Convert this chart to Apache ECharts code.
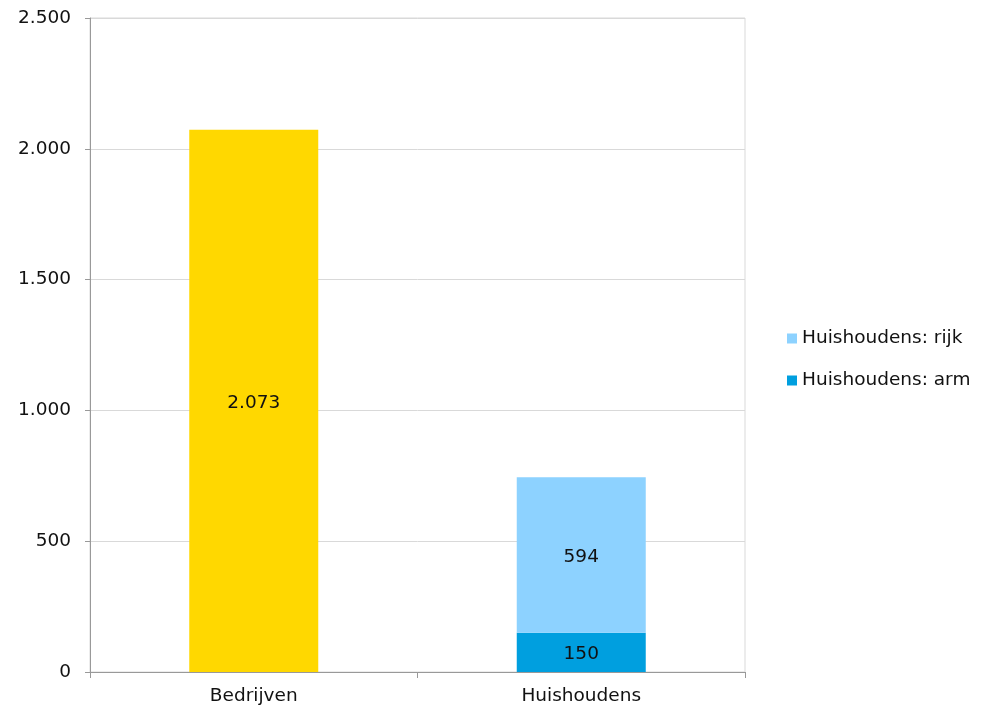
<!DOCTYPE html>
<html>
<head>
<meta charset="utf-8">
<script src="https://cdn.jsdelivr.net/npm/echarts@6/dist/echarts.min.js"></script>
<style>html,body{margin:0;padding:0;background:#fff}#c{width:981px;height:709px}</style>
</head>
<body>
<div id="c"></div>
<script>
const categories = ['Bedrijven', 'Huishoudens'];
const bedrijven = [2073, null];
const huisArm = [null, 150];
const huisRijk = [null, 594];
const legendNames = ['Huishoudens: rijk', 'Huishoudens: arm'];

const font = 'DejaVu Sans';
const fs = 18.5;
const fmt = v => String(v).replace(/\B(?=(\d{3})+(?!\d))/g, '.');
const chart = echarts.init(document.getElementById('c'));
const lbl = {show: true, position: 'inside', color: '#111', fontFamily: font, fontSize: fs, offset: [0, 2], formatter: p => fmt(p.value)};
chart.setOption({
  animation: false,
  grid: {left: 90, right: 236, top: 18, bottom: 37, show: true, borderColor: '#d9d9d9', borderWidth: 1},
  legend: {
    data: legendNames, orient: 'vertical', left: 787, top: 329, padding: 0,
    itemWidth: 10, itemHeight: 10, itemGap: 23, icon: 'rect',
    textStyle: {fontFamily: font, fontSize: fs, color: '#111'}
  },
  xAxis: {
    type: 'category', data: categories,
    axisLine: {lineStyle: {color: '#999'}},
    axisTick: {show: true, length: 6, lineStyle: {color: '#999'}},
    axisLabel: {color: '#111', fontFamily: font, fontSize: fs, margin: 15}
  },
  yAxis: {
    type: 'value', min: 0, max: 2500, interval: 500,
    axisLine: {show: true, lineStyle: {color: '#999'}},
    axisTick: {show: true, length: 5, lineStyle: {color: '#999'}},
    splitLine: {lineStyle: {color: '#d9d9d9'}},
    axisLabel: {color: '#111', fontFamily: font, fontSize: fs, margin: 19, formatter: fmt}
  },
  series: [
    {name: 'Bedrijven', type: 'bar', stack: 's', data: bedrijven, barWidth: 129, itemStyle: {color: '#FFD800'}, label: lbl},
    {name: 'Huishoudens: arm', type: 'bar', stack: 's', data: huisArm, barWidth: 129, itemStyle: {color: '#009FDF'}, label: lbl},
    {name: 'Huishoudens: rijk', type: 'bar', stack: 's', data: huisRijk, barWidth: 129, itemStyle: {color: '#8DD2FF'}, label: lbl}
  ]
});
</script>
</body>
</html>
